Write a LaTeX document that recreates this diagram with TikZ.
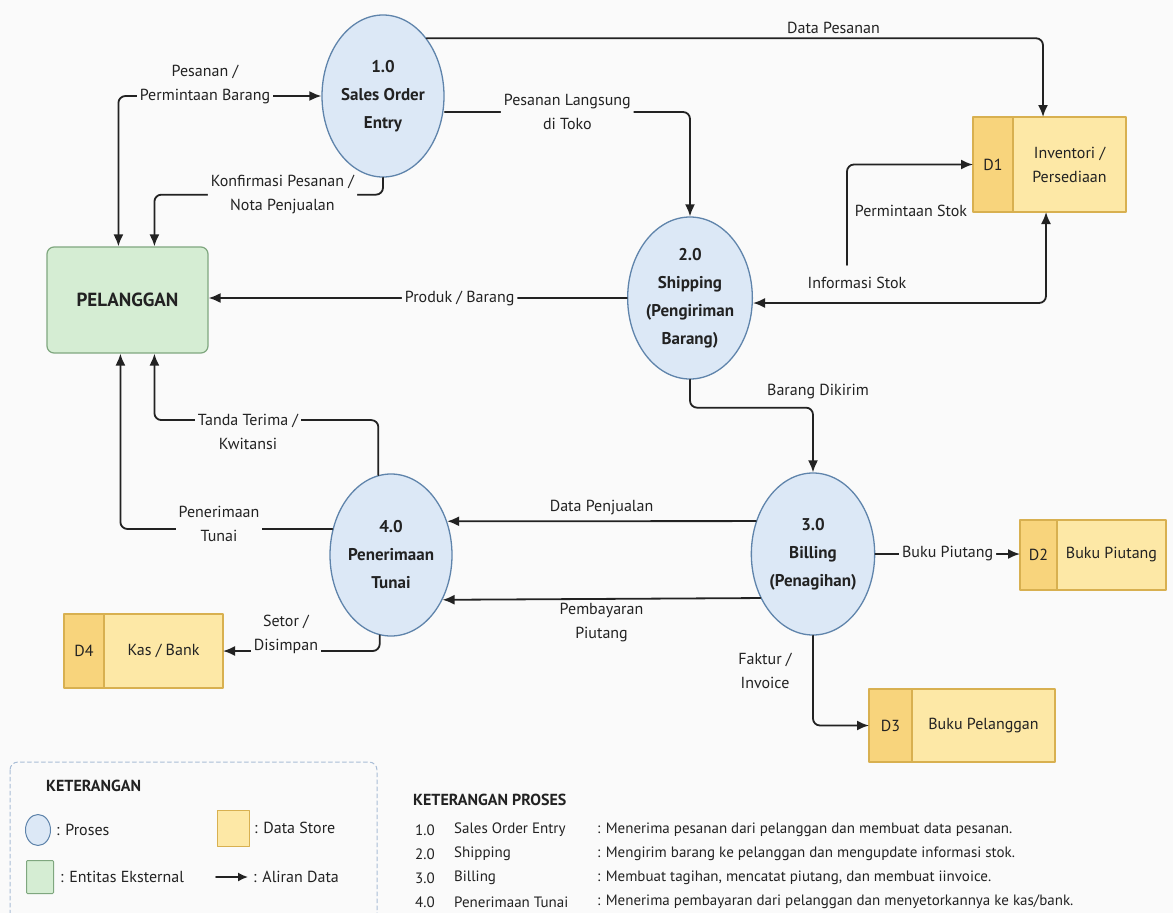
\documentclass[tikz,border=0pt]{standalone}
\usepackage{fontspec}
\setmainfont{PT Sans}
\usetikzlibrary{arrows.meta,shapes.geometric,positioning}
\definecolor{bgcol}{HTML}{FAFAFA}
\definecolor{procfill}{HTML}{DCE8F6}
\definecolor{procline}{HTML}{5F84AB}
\definecolor{entfill}{HTML}{D5EDD3}
\definecolor{entline}{HTML}{7FA77F}
\definecolor{storefill}{HTML}{FDE8A6}
\definecolor{storeid}{HTML}{F8D47C}
\definecolor{storeline}{HTML}{D8B050}
\definecolor{flowcol}{HTML}{222222}
\definecolor{legline}{HTML}{A9BDD6}

\begin{document}
\begin{tikzpicture}[x=1pt,y=-1pt,line cap=round,line join=round,>={Latex[length=12pt,width=10pt]},
	proc/.style={ellipse,draw=procline,fill=procfill,line width=1.3pt,inner sep=0pt,
		minimum width=122pt,minimum height=162pt,align=center,text=flowcol,
		font=\fontsize{17}{28}\selectfont\bfseries},
	entity/.style={rectangle,rounded corners=7pt,draw=entline,fill=entfill,line width=1.2pt,
		text=flowcol,font=\fontsize{19}{22}\selectfont\bfseries},
	store/.style={rectangle,draw=storeline,fill=storefill,line width=1.2pt,outer sep=0pt,
		align=center,text=flowcol,font=\fontsize{16}{24}\selectfont},
	storetag/.style={store,fill=storeid},
	flow/.style={draw=flowcol,line width=1.8pt,rounded corners=7pt},
	lbl/.style={fill=bgcol,inner sep=3pt,align=center,text=flowcol,font=\fontsize{16}{24}\selectfont},
	legtext/.style={anchor=west,inner sep=0pt,text=flowcol,font=\fontsize{16}{20}\selectfont}]

	\fill[bgcol] (0,0) rectangle (1173,913);
	\useasboundingbox (0,0) rectangle (1173,913);

	% processes and entity
	\node[proc] (p1) at (383,96) {1.0\\Sales Order\\Entry};
	\node[proc] (p2) at (690,298) {2.0\\Shipping\\(Pengiriman\\Barang)};
	\node[proc] (p3) at (813,554) {3.0\\Billing\\(Penagihan)};
	\node[proc] (p4) at (391,555) {4.0\\Penerimaan\\Tunai};

	\node[entity,minimum width=161pt,minimum height=106pt] (pel) at (127.5,300) {PELANGGAN};

	% data stores
	\node[store,minimum width=113pt,minimum height=95pt] (d1) at (1069.5,164.5) {Inventori /\\Persediaan};
	\node[storetag,minimum width=40pt,minimum height=95pt,left=0pt of d1] (d1id) {D1};

	\node[store,minimum width=109pt,minimum height=70pt] (d2) at (1111.5,555) {Buku Piutang};
	\node[storetag,minimum width=37pt,minimum height=70pt,left=0pt of d2] (d2id) {D2};

	\node[store,minimum width=143pt,minimum height=73pt] (d3) at (983.5,725.5) {Buku Pelanggan};
	\node[storetag,minimum width=43pt,minimum height=73pt,left=0pt of d3] (d3id) {D3};

	\node[store,minimum width=119pt,minimum height=74pt] (d4) at (163.5,651) {Kas / Bank};
	\node[storetag,minimum width=40pt,minimum height=74pt,left=0pt of d4] (d4id) {D4};

	% data flows
	\draw[flow,<->] ([xshift=72pt]pel.north west) |- (p1.west);
	\node[lbl] (lpesan) at (205,84) {Pesanan /\\Permintaan Barang};

	\draw[flow,->] (p1.south) -- ++(0,17) -| ([xshift=108pt]pel.north west)
		node[lbl,pos=0.22] (lkonf) {Konfirmasi Pesanan /\\Nota Penjualan};

	\draw[flow,->] (p1.north east) -| ([xshift=30pt]d1.north west)
		node[above,pos=0.33,text=flowcol,font=\fontsize{16}{20}\selectfont] (ldata) {Data Pesanan};

	\draw[flow,->] ([yshift=-16pt]p1.east) -| (p2.north)
		node[lbl,pos=0.25] (llangsung) {Pesanan Langsung\\di Toko};

	\draw[flow,->] (p2.west) -- (pel.east |- p2.west)
		node[lbl,pos=0.4] (lproduk) {Produk / Barang};

	\draw[flow,<->] ([yshift=-5pt]p2.east) -| ([xshift=33pt]d1.south west);
	\node[text=flowcol,font=\fontsize{16}{20}\selectfont] (linfo) at (857,283) {Informasi Stok};

	\coordinate (stok0) at (847,265);
	\draw[flow,->] (stok0) |- (d1id.west);
	\node[text=flowcol,font=\fontsize{16}{20}\selectfont] (lminta) at (911,211) {Permintaan Stok};

	\draw[flow,->] (p2.south) -- ++(0,28) -| (p3.north);
	\node[text=flowcol,font=\fontsize{16}{20}\selectfont] (lkirim) at (818,392) {Barang Dikirim};

	\draw[flow,->] (p3.150) -- (p4.31)
		node[above=2pt,midway,text=flowcol,font=\fontsize{16}{20}\selectfont] (ljual) {Data Penjualan};

	\draw[flow,->] (p3.220) -- (p4.-41)
		node[below,midway,align=center,text=flowcol,font=\fontsize{16}{24}\selectfont] (lbayar) {Pembayaran\\Piutang};

	\draw[flow,->] (p3.east) -- (p3.east -| d2id.west)
		node[lbl,midway] (lpiutang) {Buku Piutang};

	\draw[flow,->] (p3.south) |- (d3id.west);
	\node[align=center,text=flowcol,font=\fontsize{16}{24}\selectfont] (lfaktur) at (765,671) {Faktur /\\Invoice};

	\draw[flow,->] (p4.99) -- ++(0,-55) -| ([xshift=108pt]pel.south west);
	\node[lbl] (ltanda) at (248,432) {Tanda Terima /\\Kwitansi};

	\draw[flow,->] (p4.156) -| ([xshift=74pt]pel.south west);
	\node[lbl] (ltunai) at (219,524) {Penerimaan\\Tunai};

	\draw[flow,->] (p4.-98) |- (d4.east);
	\node[lbl] (lsetor) at (286,634) {Setor /\\Disimpan};

	% legend
	\draw[legline,line width=1pt,dash pattern=on 4pt off 3pt,rounded corners=8pt] (10,762) rectangle (377,940);
	\node[legtext,font=\fontsize{16}{20}\selectfont\bfseries] (legtitle) at (46,786) {KETERANGAN};
	\node[proc,minimum width=25pt,minimum height=31pt,line width=1pt] (legproc) at (38,830) {};
	\node[legtext] (legproct) at (56,830) {: Proses};
	\node[entity,rounded corners=1pt,minimum width=27pt,minimum height=33pt,line width=1pt] (legent) at (40,877) {};
	\node[legtext] (legentt) at (60,877) {: Entitas Eksternal};
	\node[store,minimum width=32pt,minimum height=36pt,line width=1pt] (legstore) at (233,828) {};
	\node[legtext] (legstoret) at (254,828) {: Data Store};
	\coordinate (legarr0) at (216,877);
	\coordinate (legarr1) at (248,877);
	\draw[flow,->,line width=1.6pt,>={Latex[length=10pt,width=9pt]}] (legarr0) -- (legarr1);
	\node[legtext] (legarrt) at (253,877) {: Aliran Data};

	\node[legtext,font=\fontsize{16}{20}\selectfont\bfseries] (ketproses) at (413,800) {KETERANGAN PROSES};
	\foreach \num/\name/\desc [count=\i] in {1.0/Sales Order Entry/{: Menerima pesanan dari pelanggan dan membuat data pesanan.},
		2.0/Shipping/{: Mengirim barang ke pelanggan dan mengupdate informasi stok.},
		3.0/Billing/{: Membuat tagihan, mencatat piutang, dan membuat iinvoice.},
		4.0/Penerimaan Tunai/{: Menerima pembayaran dari pelanggan dan menyetorkannya ke kas/bank.}}{
		\node[legtext,font=\fontsize{15}{18}\selectfont] (num\i) at (415,806+24*\i) {\num};
		\node[legtext,font=\fontsize{15}{18}\selectfont] (name\i) at (454,806+24*\i) {\name};
		\node[legtext,font=\fontsize{15}{18}\selectfont] (desc\i) at (597,806+24*\i) {\desc};
	}
\end{tikzpicture}
\end{document}
